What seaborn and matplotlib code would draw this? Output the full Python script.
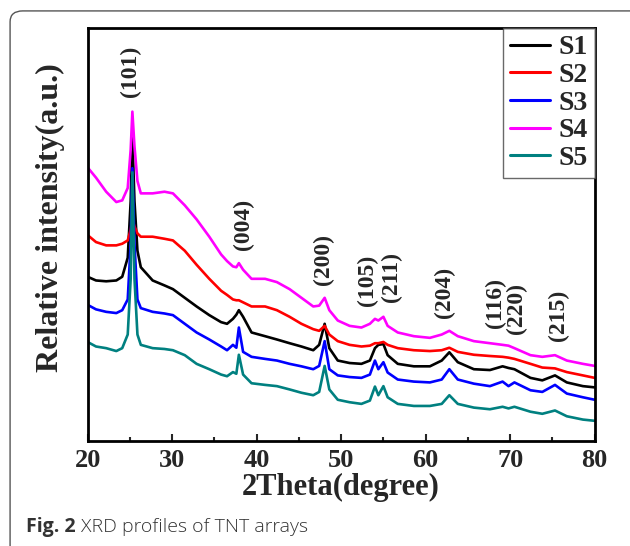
import numpy as np
import pandas as pd
import matplotlib
matplotlib.use("Agg")
import matplotlib.pyplot as plt
from matplotlib.patches import FancyBboxPatch
from matplotlib.ticker import MultipleLocator
import seaborn as sns

# 2-theta grid (degrees) shared by all samples
two_theta = [20, 21, 22.2, 23.4, 24.1, 24.75, 25.1, 25.3, 25.55, 25.9, 26.3, 27.7,
             29.1, 30.1, 31.5, 32.9, 34.4, 35.8, 36.5, 37.2, 37.6, 37.9, 38.4,
             39.4, 41.0, 42.4, 43.9, 45.3, 46.7, 47.4, 48.05, 48.6, 49.6, 51.0,
             52.4, 53.4, 54.0, 54.4, 55.0, 55.5, 56.7, 58.6, 60.5, 61.9, 62.8,
             63.8, 65.7, 67.6, 69.1, 69.8, 70.5, 72.4, 73.8, 75.3, 76.7, 78.6, 80]

s1 = [39.7, 38.8, 38.6, 38.8, 39.7, 44.3, 58.0, 73.7, 58.0, 46.0, 42.0, 38.8,
      37.6, 36.7, 34.6, 32.5, 30.4, 28.7, 28.3, 29.5, 30.5, 31.6, 30.0,
      26.2, 25.3, 24.5, 23.6, 22.8, 21.9, 23.2, 28.3, 22.4, 19.4, 18.8,
      18.6, 19.4, 22.4, 23.2, 23.4, 20.7, 18.6, 18.0, 18.0, 19.4, 21.4,
      19.0, 17.3, 17.1, 18.0, 17.6, 17.3, 15.2, 14.6, 15.8, 14.1, 13.2, 12.9]
s2 = [49.8, 48.1, 47.3, 47.3, 47.7, 48.5, 51.1, 53.6, 51.9, 50.2, 49.4, 49.4,
      48.9, 48.5, 46.0, 42.6, 39.2, 36.3, 35.3, 34.2, 34.0, 34.0, 33.5,
      32.5, 32.5, 31.6, 30.0, 28.3, 27.0, 26.6, 27.8, 25.7, 24.1, 23.2,
      22.8, 23.0, 23.6, 23.6, 23.9, 23.2, 22.4, 21.9, 21.7, 21.9, 22.5,
      21.5, 20.8, 20.5, 20.3, 20.1, 19.8, 18.6, 17.7, 17.5, 16.6, 15.8, 15.2]
s3 = [32.9, 31.8, 31.2, 30.9, 31.6, 34.2, 47.7, 66.0, 47.7, 34.2, 32.1, 31.2,
      30.8, 30.4, 28.3, 26.2, 24.5, 22.8, 21.9, 23.2, 22.5, 27.4, 21.5,
      20.3, 19.8, 19.4, 18.6, 18.0, 17.3, 18.1, 24.1, 17.3, 15.8, 15.4,
      15.2, 16.0, 19.4, 17.3, 19.0, 16.5, 14.8, 14.3, 14.1, 14.8, 17.3,
      14.8, 13.8, 13.2, 14.3, 13.2, 14.1, 12.2, 11.8, 13.5, 11.4, 10.5, 9.9]
s4 = [66.2, 63.7, 60.3, 57.8, 58.2, 61.2, 70.5, 79.7, 71.3, 62.9, 59.9, 59.9,
      60.3, 59.9, 57.0, 53.6, 49.4, 45.1, 43.5, 42.2, 42.0, 43.0, 41.4,
      39.2, 39.2, 38.4, 36.7, 34.6, 32.5, 32.7, 34.6, 31.6, 29.1, 27.8,
      27.4, 28.3, 29.5, 29.1, 30.0, 27.8, 26.2, 25.3, 24.9, 25.7, 26.6,
      25.3, 24.1, 23.6, 23.2, 23.0, 22.4, 20.7, 20.3, 20.7, 19.4, 18.6, 18.1]
s5 = [23.9, 22.8, 22.4, 21.7, 22.4, 25.7, 39.2, 65.0, 39.2, 25.7, 23.2, 22.4,
      22.2, 21.9, 20.7, 18.6, 17.3, 16.0, 15.6, 16.6, 16.2, 20.8, 16.0,
      13.9, 13.5, 13.2, 12.4, 11.6, 11.0, 11.8, 18.1, 12.4, 9.9, 9.3,
      8.9, 9.7, 13.1, 11.0, 13.2, 10.5, 8.9, 8.4, 8.4, 8.9, 11.0,
      8.9, 8.0, 7.6, 8.2, 7.8, 8.2, 7.0, 6.5, 7.3, 5.9, 5.1, 4.8]

samples = ["S1", "S2", "S3", "S4", "S5"]
colors = ["#000000", "#ff0000", "#0000ff", "#ff00ff", "#008080"]

peak_labels = ["(101)", "(004)", "(200)", "(105)", "(211)", "(204)", "(116)", "(220)", "(215)"]
peak_x = [25.1, 38.4, 47.9, 53.1, 56.0, 62.2, 68.2, 70.7, 75.7]
peak_y = [89.5, 52.3, 43.9, 38.8, 39.7, 35.9, 33.3, 32.1, 30.4]

df = pd.concat([pd.DataFrame({"2theta": two_theta, "intensity": s, "sample": name})
                for name, s in zip(samples, [s1, s2, s3, s4, s5])])

sns.set_style("ticks")
plt.rcParams["font.family"] = ["Liberation Serif", "DejaVu Serif"]
plt.rcParams["font.weight"] = "bold"

fig = plt.figure(figsize=(6.3, 5.46), dpi=100)
ax = fig.add_axes([0.139, 0.193, 0.805, 0.756])

sns.lineplot(data=df, x="2theta", y="intensity", hue="sample", palette=colors,
             linewidth=1.9, ax=ax, sort=False, estimator=None)

for lab, x, y in zip(peak_labels, peak_x, peak_y):
    ax.text(x, y, lab, rotation=90, ha="center", va="center",
            fontsize=17, fontweight="bold")

ax.set_xlim(20, 80)
ax.set_ylim(0, 100)
ax.xaxis.set_major_locator(MultipleLocator(10))
ax.xaxis.set_minor_locator(MultipleLocator(5))
ax.tick_params(axis="x", which="major", direction="in", length=5, width=1.5,
               labelsize=19, pad=6)
ax.tick_params(axis="x", which="minor", direction="in", length=3, width=1.5)
ax.set_yticks([])
for sp in ax.spines.values():
    sp.set_linewidth(2)
    sp.set_color("black")
for t in ax.get_xticklabels():
    t.set_fontweight("bold")

ax.set_xlabel("2Theta(degree)", fontsize=22, fontweight="bold", labelpad=1)
ax.set_ylabel("Relative intensity(a.u.)", fontsize=23, fontweight="bold")
ax.yaxis.set_label_coords(-0.045, 0.54)

leg = ax.legend(loc="upper right", borderaxespad=0, frameon=True, fancybox=False,
                prop={"size": 20, "weight": "bold"}, handlelength=1.45,
                labelspacing=0.08, borderpad=0.25, handletextpad=0.3)
leg.get_frame().set_edgecolor("#444444")
leg.get_frame().set_linewidth(1.0)
for h in leg.get_lines():
    h.set_linewidth(2.2)

box = FancyBboxPatch((0.016, -0.02), 1.1, 1.0, transform=fig.transFigure,
                     boxstyle="round,pad=0,rounding_size=0.02",
                     facecolor="none", edgecolor="#555555", linewidth=1.0,
                     clip_on=False)
fig.patches.append(box)

cap1 = fig.text(0.042, 0.026, "Fig. 2 ", fontsize=14, fontweight="bold",
                family="Open Sans", color="#333333", va="baseline")
fig.canvas.draw()
ext = cap1.get_window_extent()
fig.text(ext.x1 / fig.bbox.width, 0.026, "XRD profiles of TNT arrays", fontsize=14,
         fontweight="light", family="Open Sans", color="#333333", va="baseline")

fig.savefig("out.png", dpi=100)
